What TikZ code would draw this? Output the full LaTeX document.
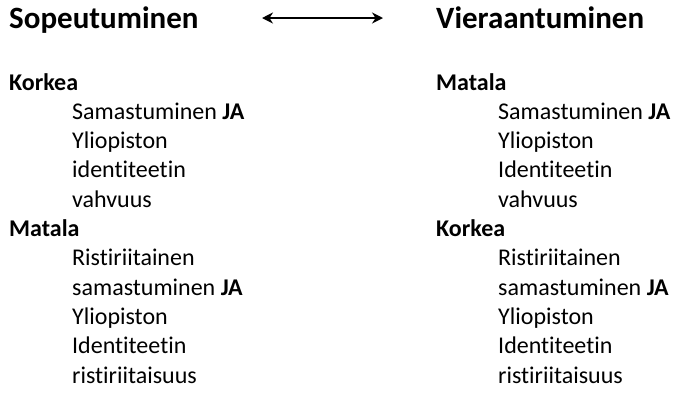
\documentclass[tikz,border=0pt]{standalone}
\usepackage{fontspec}
\setmainfont{Carlito}[Ligatures=NoCommon]
\usetikzlibrary{arrows.meta}
\tikzset{
  otsikko/.style={anchor=base west, inner sep=0pt, font=\fontsize{31}{36}\selectfont\bfseries},
  taso/.style={anchor=base west, inner sep=0pt, font=\fontsize{24}{29}\selectfont\bfseries},
  rivi/.style={anchor=base west, inner sep=0pt, font=\fontsize{24}{29}\selectfont},
}
\begin{document}
\begin{tikzpicture}[x=1pt,y=-1pt]
\useasboundingbox (0,0) rectangle (676,392);
\node[otsikko] (sop) at (9,28) {Sopeutuminen};
\node[otsikko] (vie) at (436,28) {Vieraantuminen};
\coordinate (nuolia) at (262,18);
\coordinate (nuolib) at (383,18);
\path[draw,line width=2.2pt,{Stealth[length=11pt,width=11pt]}-{Stealth[length=11pt,width=11pt]}] (nuolia) -- (nuolib);

% vasen sarake
\node[taso] (k1) at (9,90) {Korkea};
\node[rivi] (k1a) at (72,119.3) {Samastuminen \textbf{JA}};
\node[rivi] (k1b) at (72,148.6) {Yliopiston};
\node[rivi] (k1c) at (72,177.9) {identiteetin};
\node[rivi] (k1d) at (72,207.2) {vahvuus};
\node[taso] (m1) at (9,236.5) {Matala};
\node[rivi] (m1a) at (72,265.8) {Ristiriitainen};
\node[rivi] (m1b) at (72,295.1) {samastuminen \textbf{JA}};
\node[rivi] (m1c) at (72,324.4) {Yliopiston};
\node[rivi] (m1d) at (72,353.7) {Identiteetin};
\node[rivi] (m1e) at (72,383) {ristiriitaisuus};

% oikea sarake
\node[taso] (m2) at (436,90) {Matala};
\node[rivi] (m2a) at (498,119.3) {Samastuminen \textbf{JA}};
\node[rivi] (m2b) at (498,148.6) {Yliopiston};
\node[rivi] (m2c) at (498,177.9) {Identiteetin};
\node[rivi] (m2d) at (498,207.2) {vahvuus};
\node[taso] (k2) at (436,236.5) {Korkea};
\node[rivi] (k2a) at (498,265.8) {Ristiriitainen};
\node[rivi] (k2b) at (498,295.1) {samastuminen \textbf{JA}};
\node[rivi] (k2c) at (498,324.4) {Yliopiston};
\node[rivi] (k2d) at (498,353.7) {Identiteetin};
\node[rivi] (k2e) at (498,383) {ristiriitaisuus};
\end{tikzpicture}
\end{document}
